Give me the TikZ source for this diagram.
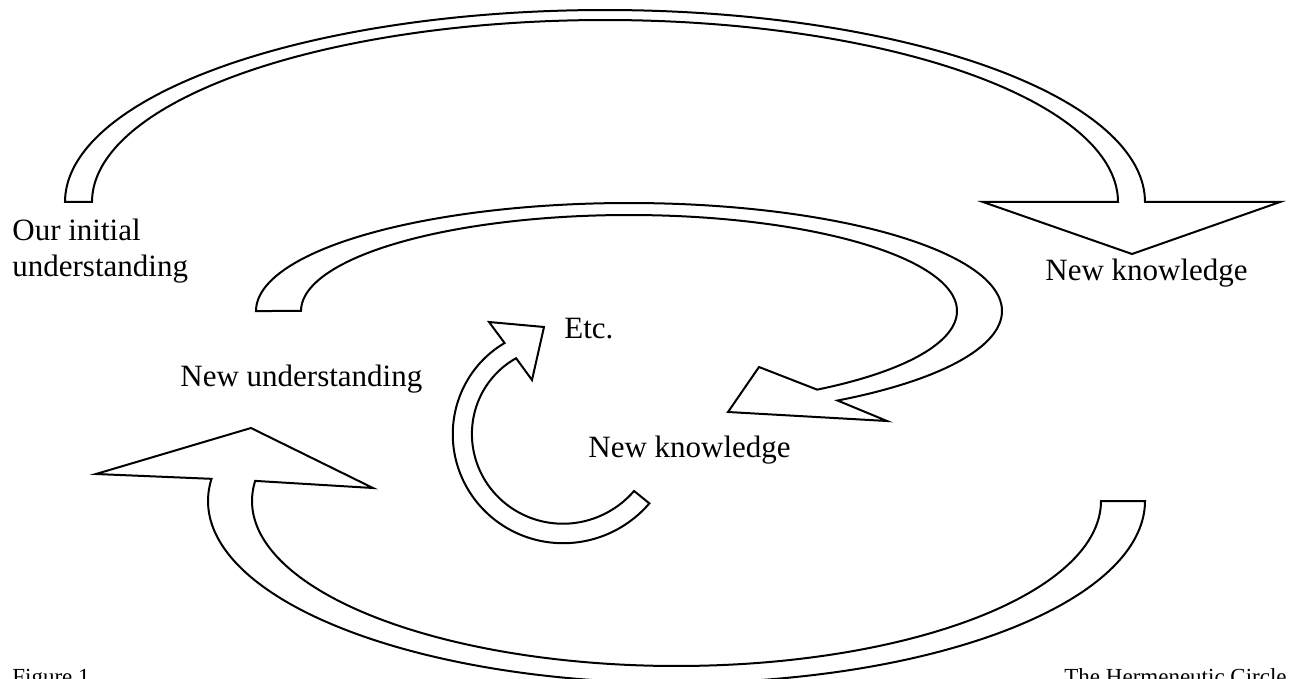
\documentclass[tikz,border=0pt]{standalone}
\usepackage{fontspec}
\setmainfont{Liberation Serif}
\begin{document}
\begin{tikzpicture}[x=0.5pt,y=-0.5pt,
  blockarrow/.style={draw=black, line width=1pt, line join=miter, fill=white},
  lbl/.style={inner sep=0pt, anchor=base west, font=\fontsize{15.5}{17.8}\selectfont},
  caplbl/.style={inner sep=0pt, anchor=base west, font=\fontsize{11.5}{13.8}\selectfont}]
\useasboundingbox (0,0) rectangle (1289,679);
% top arrow
\draw[blockarrow] plot[domain=180:360, samples=150] ({605+540*cos(\x)},{202+192*sin(\x)})
  -- (1280,202) -- (1132,254) -- (983,202)
  -- plot[domain=360:180, samples=150] ({605+513*cos(\x)},{202+182*sin(\x)}) -- cycle;
% middle arrow
\draw[blockarrow] plot[domain=180:416, samples=200] ({629+373*cos(\x)},{311+108*sin(\x)})
  -- (887,421) -- (728,412) -- (759,367)
  -- plot[domain=415:180, samples=200] ({629+328*cos(\x)},{311+96*sin(\x)}) -- cycle;
% bottom arrow
\draw[blockarrow] plot[domain=0:187, samples=200] ({676.5+468.5*cos(\x)},{501+182*sin(\x)})
  -- (96,474) -- (251,428) -- (373,488)
  -- plot[domain=187:0, samples=200] ({676.5+424.5*cos(\x)},{501+165*sin(\x)}) -- cycle;
% small curved arrow
\draw[blockarrow] plot[domain=237.8:39, samples=120] ({560+(104+(237.8-\x)*0.0553)*cos(\x)},{431+(104+(237.8-\x)*0.0553)*sin(\x)})
  -- plot[domain=39:238.9, samples=120] ({560+(85+(238.9-\x)*0.0515)*cos(\x)},{431+(85+(238.9-\x)*0.0515)*sin(\x)})
  -- (532,380) -- (544,327) -- (489,322) -- cycle;
% labels
\node[lbl] (init1) at (12,241) {Our initial};
\node[lbl] (init2) at (12,276) {understanding};
\node[lbl] (newund) at (180,386) {New understanding};
\node[lbl] (etc) at (564,338) {Etc.};
\node[lbl] (newk1) at (588,457) {New knowledge};
\node[lbl] (newk2) at (1045,280) {New knowledge};
\node[caplbl] (fig) at (12,684) {Figure 1};
\node[caplbl] (title) at (1064,684) {The Hermeneutic Circle};
\end{tikzpicture}
\end{document}
